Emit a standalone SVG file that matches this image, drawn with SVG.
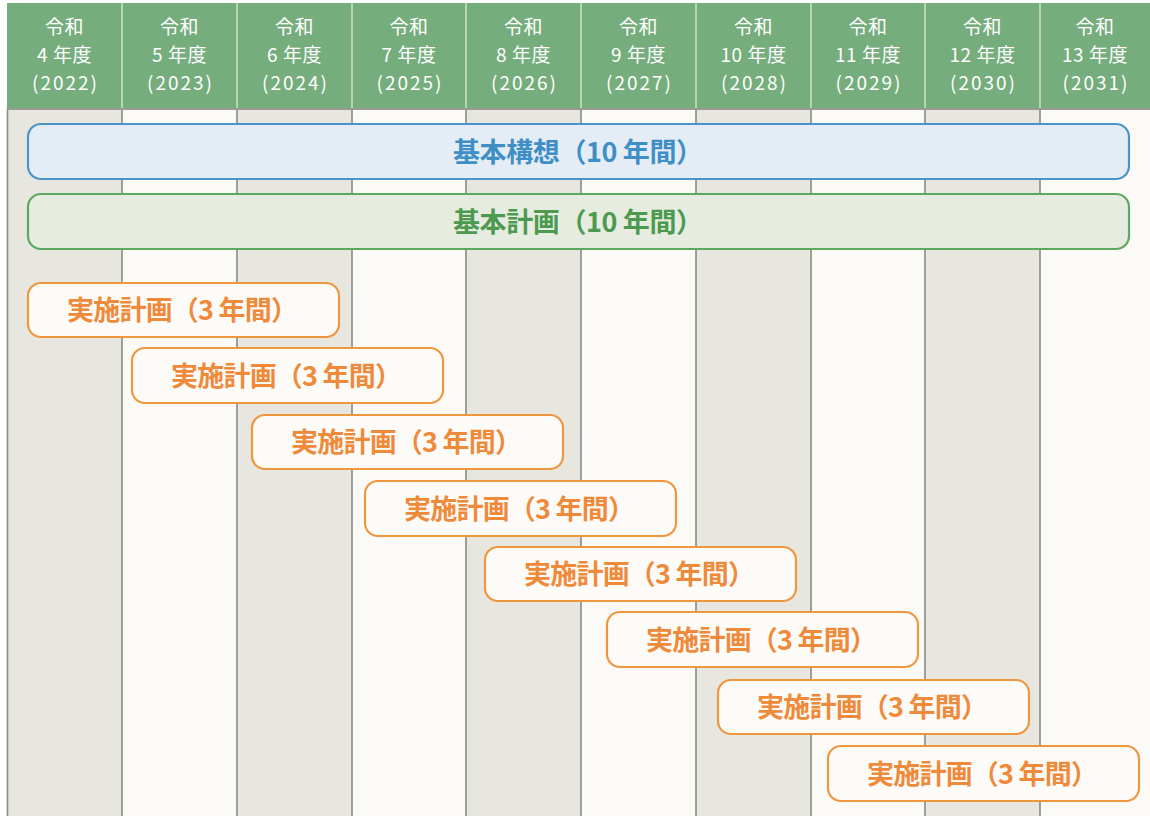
<svg xmlns="http://www.w3.org/2000/svg" width="1150" height="816" viewBox="0 0 1150 816">
<style>
.hd{fill:#fff;font-family:"Noto Sans CJK JP","Noto Sans",sans-serif;font-size:19px;text-anchor:middle;letter-spacing:0.5px}
.yr{letter-spacing:2px}
.g{fill:#e7e7e0}.w{fill:#fbfaf7}
.vl{stroke:#8a8a85;stroke-width:1.6}
.hl{stroke:#cfe3cf;stroke-width:1.5}
.bar{font-family:"Noto Sans CJK JP","Noto Sans",sans-serif;font-size:27px;font-weight:bold}
.ob{fill:#fdfbf8;stroke:#f0963f;stroke-width:2.2}
.ot{fill:#ef8a3a}
</style>
<rect width="1150" height="816" fill="#ffffff"/>
<g id="columns">
<rect class="g" x="7" y="110" width="115" height="706"/>
<rect class="w" x="122" y="110" width="115" height="706"/>
<rect class="g" x="237" y="110" width="115" height="706"/>
<rect class="w" x="352" y="110" width="114" height="706"/>
<rect class="g" x="466" y="110" width="115" height="706"/>
<rect class="w" x="581" y="110" width="115" height="706"/>
<rect class="g" x="696" y="110" width="115" height="706"/>
<rect class="w" x="811" y="110" width="114" height="706"/>
<rect class="g" x="925" y="110" width="115" height="706"/>
<rect class="w" x="1040" y="110" width="110" height="706"/>
<line class="vl" x1="7.5" y1="108" x2="7.5" y2="816"/>
<line class="vl" x1="122" y1="108" x2="122" y2="816"/>
<line class="vl" x1="237" y1="108" x2="237" y2="816"/>
<line class="vl" x1="352" y1="108" x2="352" y2="816"/>
<line class="vl" x1="466" y1="108" x2="466" y2="816"/>
<line class="vl" x1="581" y1="108" x2="581" y2="816"/>
<line class="vl" x1="696" y1="108" x2="696" y2="816"/>
<line class="vl" x1="811" y1="108" x2="811" y2="816"/>
<line class="vl" x1="925" y1="108" x2="925" y2="816"/>
<line class="vl" x1="1040" y1="108" x2="1040" y2="816"/>
<line x1="7" y1="109" x2="1150" y2="109" stroke="#9a9a95" stroke-width="2"/>
</g>
<g id="header">
<rect x="7" y="3" width="1143" height="105" fill="#76ad7d"/>
<line class="hl" x1="122" y1="3" x2="122" y2="108"/>
<line class="hl" x1="237" y1="3" x2="237" y2="108"/>
<line class="hl" x1="352" y1="3" x2="352" y2="108"/>
<line class="hl" x1="466" y1="3" x2="466" y2="108"/>
<line class="hl" x1="581" y1="3" x2="581" y2="108"/>
<line class="hl" x1="696" y1="3" x2="696" y2="108"/>
<line class="hl" x1="811" y1="3" x2="811" y2="108"/>
<line class="hl" x1="925" y1="3" x2="925" y2="108"/>
<line class="hl" x1="1040" y1="3" x2="1040" y2="108"/>
<text class="hd" x="64.5" y="34">令和<tspan x="64.5" y="62">4 年度</tspan><tspan class="yr" x="65.5" y="90">(2022)</tspan></text>
<text class="hd" x="179.5" y="34">令和<tspan x="179.5" y="62">5 年度</tspan><tspan class="yr" x="180.5" y="90">(2023)</tspan></text>
<text class="hd" x="294.5" y="34">令和<tspan x="294.5" y="62">6 年度</tspan><tspan class="yr" x="295.5" y="90">(2024)</tspan></text>
<text class="hd" x="409" y="34">令和<tspan x="409" y="62">7 年度</tspan><tspan class="yr" x="410" y="90">(2025)</tspan></text>
<text class="hd" x="523.5" y="34">令和<tspan x="523.5" y="62">8 年度</tspan><tspan class="yr" x="524.5" y="90">(2026)</tspan></text>
<text class="hd" x="638.5" y="34">令和<tspan x="638.5" y="62">9 年度</tspan><tspan class="yr" x="639.5" y="90">(2027)</tspan></text>
<text class="hd" x="753.5" y="34">令和<tspan x="753.5" y="62">10 年度</tspan><tspan class="yr" x="754.5" y="90">(2028)</tspan></text>
<text class="hd" x="868" y="34">令和<tspan x="868" y="62">11 年度</tspan><tspan class="yr" x="869" y="90">(2029)</tspan></text>
<text class="hd" x="982.5" y="34">令和<tspan x="982.5" y="62">12 年度</tspan><tspan class="yr" x="983.5" y="90">(2030)</tspan></text>
<text class="hd" x="1095" y="34">令和<tspan x="1095" y="62">13 年度</tspan><tspan class="yr" x="1096" y="90">(2031)</tspan></text>
</g>
<g id="kihon-kousou">
<rect x="28" y="124" width="1101" height="55" rx="13" fill="#e4edf5" stroke="#4b93c9" stroke-width="2.2"/>
<text class="bar" x="453" y="161.5" textLength="250" lengthAdjust="spacing" fill="#3f8fc6">基本構想（10 年間）</text>
</g>
<g id="kihon-keikaku">
<rect x="28" y="194" width="1101" height="55" rx="13" fill="#e6ecdf" stroke="#5aa95f" stroke-width="2.2"/>
<text class="bar" x="453" y="231.5" textLength="250" lengthAdjust="spacing" fill="#4c9a50">基本計画（10 年間）</text>
</g>
<g id="jisshi-1"><rect class="ob" x="28" y="283" width="311" height="54" rx="13"/><text class="bar ot" x="67" y="320" textLength="231" lengthAdjust="spacing">実施計画（3 年間）</text></g>
<g id="jisshi-2"><rect class="ob" x="132" y="348" width="311" height="55" rx="13"/><text class="bar ot" x="171" y="385.5" textLength="231" lengthAdjust="spacing">実施計画（3 年間）</text></g>
<g id="jisshi-3"><rect class="ob" x="252" y="415" width="311" height="54" rx="13"/><text class="bar ot" x="291" y="452" textLength="231" lengthAdjust="spacing">実施計画（3 年間）</text></g>
<g id="jisshi-4"><rect class="ob" x="365" y="481" width="311" height="55" rx="13"/><text class="bar ot" x="404" y="518.5" textLength="231" lengthAdjust="spacing">実施計画（3 年間）</text></g>
<g id="jisshi-5"><rect class="ob" x="485" y="547" width="311" height="54" rx="13"/><text class="bar ot" x="524" y="584" textLength="231" lengthAdjust="spacing">実施計画（3 年間）</text></g>
<g id="jisshi-6"><rect class="ob" x="607" y="612" width="311" height="55" rx="13"/><text class="bar ot" x="646" y="649.5" textLength="231" lengthAdjust="spacing">実施計画（3 年間）</text></g>
<g id="jisshi-7"><rect class="ob" x="718" y="680" width="311" height="54" rx="13"/><text class="bar ot" x="757" y="717" textLength="231" lengthAdjust="spacing">実施計画（3 年間）</text></g>
<g id="jisshi-8"><rect class="ob" x="828" y="746" width="311" height="55" rx="13"/><text class="bar ot" x="867" y="783.5" textLength="231" lengthAdjust="spacing">実施計画（3 年間）</text></g>
<g id="connectors"></g>
</svg>
